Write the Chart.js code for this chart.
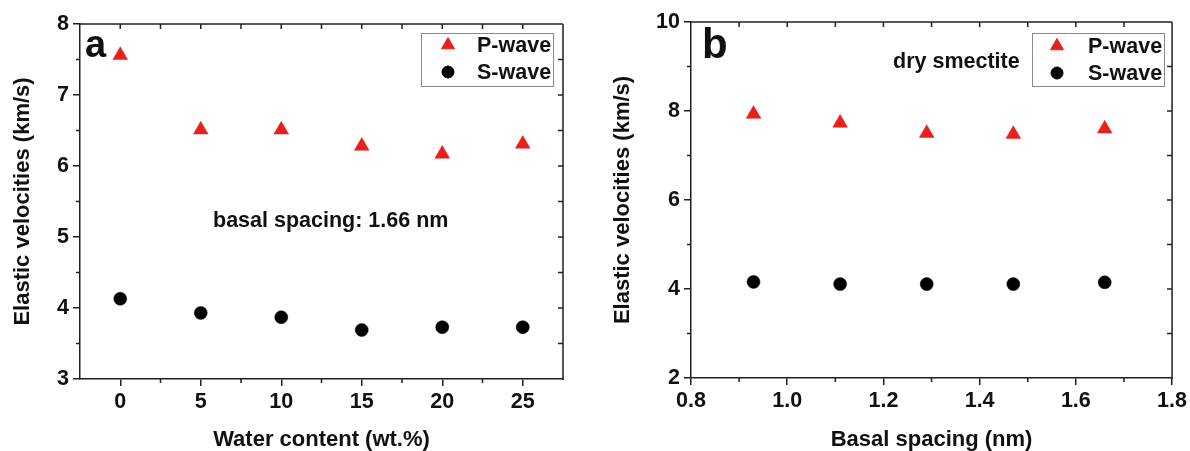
<!DOCTYPE html>
<html><head><meta charset="utf-8">
<script src="https://cdn.jsdelivr.net/npm/chart.js@4.4.1/dist/chart.umd.min.js"></script>
<style>
html,body{margin:0;padding:0;background:#fff;}
body{width:1190px;height:451px;overflow:hidden;position:relative;}
.p{position:absolute;top:0;width:595px;height:451px;}
</style></head><body>
<div class="p" style="left:0"><canvas id="chartA" width="595" height="451"></canvas></div>
<div class="p" style="left:595px"><canvas id="chartB" width="595" height="451"></canvas></div>
<script>
// ---- data ----
const waterContent = [0, 5, 10, 15, 20, 25];
const pWaveA = [7.56, 6.51, 6.51, 6.28, 6.17, 6.31];
const sWaveA = [4.13, 3.93, 3.87, 3.69, 3.73, 3.73];
const basalSpacing = [0.93, 1.11, 1.29, 1.47, 1.66];
const pWaveB = [7.93, 7.73, 7.50, 7.48, 7.60];
const sWaveB = [4.16, 4.11, 4.11, 4.11, 4.15];
const xTicksA = [0, 5, 10, 15, 20, 25];
const yTicksA = [3, 4, 5, 6, 7, 8];
const xMinorA = [2.5, 7.5, 12.5, 17.5, 22.5];
const yMinorA = [3.5, 4.5, 5.5, 6.5, 7.5];
const xTicksB = [0.8, 1.0, 1.2, 1.4, 1.6, 1.8];
const yTicksB = [2, 4, 6, 8, 10];
const xMinorB = [0.9, 1.1, 1.3, 1.5, 1.7];
const yMinorB = [3, 5, 7, 9];

const FONT = "'Liberation Sans', Arial, sans-serif";
const RED = '#e8201c';
const AXIS = '#231f1c';
const TXT = 21.5;

const decor = {
  id: 'decor',
  afterDraw(chart, args, o) {
    const ctx = chart.ctx, a = chart.chartArea;
    const xs = chart.scales.x, ys = chart.scales.y;
    ctx.save();
    ctx.strokeStyle = AXIS;
    ctx.lineWidth = 1.5;
    ctx.beginPath();
    ctx.moveTo(a.left, a.top); ctx.lineTo(a.right, a.top);
    ctx.moveTo(a.right, a.top); ctx.lineTo(a.right, a.bottom + 1);
    o.xMinor.forEach(v => { const px = xs.getPixelForValue(v); ctx.moveTo(px, a.bottom); ctx.lineTo(px, a.bottom + 4); });
    o.yMinor.forEach(v => { const py = ys.getPixelForValue(v); ctx.moveTo(a.left, py); ctx.lineTo(a.left - 4, py); });
    o.xMajor.concat(o.xMinor).forEach(v => { const px = xs.getPixelForValue(v); if (px > a.left + 1 && px < a.right - 1) { ctx.moveTo(px, a.top); ctx.lineTo(px, a.top + 5); } });
    o.yMajor.concat(o.yMinor).forEach(v => { const py = ys.getPixelForValue(v); if (py > a.top + 1 && py < a.bottom - 1) { ctx.moveTo(a.right, py); ctx.lineTo(a.right - 5, py); } });
    ctx.stroke();
    ctx.fillStyle = '#111';
    ctx.textBaseline = 'alphabetic';
    ctx.textAlign = 'left';
    ctx.font = 'bold ' + o.labelSize + 'px ' + FONT;
    ctx.fillText(o.label, o.labelX, o.labelY);
    ctx.font = 'bold ' + TXT + 'px ' + FONT;
    ctx.textBaseline = 'middle';
    ctx.fillText(o.note, o.noteX, o.noteY);
    const L = o.legend;
    ctx.strokeStyle = '#8a8a8a';
    ctx.lineWidth = 1;
    ctx.strokeRect(L.x + 0.5, L.y + 0.5, L.w, L.h);
    chart.data.datasets.forEach((ds, i) => {
      const cy = L.y + L.row0 + i * L.rowH;
      ctx.fillStyle = ds.backgroundColor;
      ctx.strokeStyle = ds.borderColor;
      Chart.helpers.drawPoint(ctx, {pointStyle: ds.pointStyle, radius: ds.pointStyle === 'triangle' ? 7.5 : 6, borderWidth: 0.5, rotation: 0}, L.x + L.mx, cy);
      ctx.fillStyle = '#111';
      ctx.font = 'bold ' + TXT + 'px ' + FONT;
      ctx.textBaseline = 'middle';
      ctx.fillText(ds.label, L.x + L.tx, cy + 1);
    });
    ctx.restore();
  }
};

function makeChart(id, cfg) {
  const tickFont = {family: FONT, size: TXT, weight: 'bold'};
  const titleFont = {family: FONT, size: 22, weight: 'bold', lineHeight: 1.0};
  return new Chart(document.getElementById(id), {
    type: 'scatter',
    data: {
      datasets: [
        {label: 'P-wave', data: cfg.x.map((v, i) => ({x: v, y: cfg.p[i]})), pointStyle: 'triangle', pointRadius: 8.5, pointHoverRadius: 8.5, backgroundColor: RED, borderColor: RED, pointBorderWidth: 0.5},
        {label: 'S-wave', data: cfg.x.map((v, i) => ({x: v, y: cfg.s[i]})), pointStyle: 'circle', pointRadius: 6.5, pointHoverRadius: 6.5, backgroundColor: '#000', borderColor: '#000', pointBorderWidth: 0.5}
      ]
    },
    options: {
      responsive: false, animation: false, devicePixelRatio: 1,
      layout: {padding: {left: 0, right: cfg.padRight, top: cfg.padTop, bottom: 0}},
      plugins: {
        legend: {display: false}, tooltip: {enabled: false},
        decor: cfg.decor
      },
      scales: {
        x: {
          type: 'linear', min: cfg.xMin, max: cfg.xMax,
          afterBuildTicks: s => { s.ticks = cfg.xTicks.map(v => ({value: v})); },
          afterFit: s => { s.height = cfg.xHeight; },
          grid: {display: true, drawOnChartArea: false, drawTicks: true, tickLength: 7, tickColor: AXIS, lineWidth: 1.5},
          border: {display: true, color: AXIS, width: 1.5},
          ticks: {font: tickFont, color: '#111', padding: 3, maxRotation: 0, callback: cfg.xFmt},
          title: {display: true, text: cfg.xTitle, font: titleFont, color: '#111', padding: {top: 0, bottom: 0}}
        },
        y: {
          type: 'linear', min: cfg.yMin, max: cfg.yMax,
          afterBuildTicks: s => { s.ticks = cfg.yTicks.map(v => ({value: v})); },
          afterFit: s => { s.width = cfg.yWidth; },
          grid: {display: true, drawOnChartArea: false, drawTicks: true, tickLength: 7, tickColor: AXIS, lineWidth: 1.5},
          border: {display: true, color: AXIS, width: 1.5},
          ticks: {font: tickFont, color: '#111', padding: 4, callback: v => String(v)},
          title: {display: true, text: 'Elastic velocities (km/s)', font: titleFont, color: '#111', padding: {top: cfg.yTitlePad, bottom: 0}}
        }
      }
    },
    plugins: [decor]
  });
}

makeChart('chartA', {
  x: waterContent, p: pWaveA, s: sWaveA,
  xMin: -2.5, xMax: 27.5, yMin: 3, yMax: 8,
  xTicks: xTicksA, yTicks: yTicksA,
  xFmt: v => String(v),
  xTitle: 'Water content (wt.%)',
  padRight: 32, padTop: 24, xHeight: 72, yWidth: 80, yTitlePad: 12,
  decor: {
    xMajor: xTicksA, yMajor: yTicksA, xMinor: xMinorA, yMinor: yMinorA,
    label: 'a', labelSize: 38, labelX: 85, labelY: 57,
    note: 'basal spacing: 1.66 nm', noteX: 213, noteY: 221,
    legend: {x: 421, y: 33, w: 132, h: 53, row0: 12, rowH: 27, mx: 27, tx: 56}
  }
});

makeChart('chartB', {
  x: basalSpacing, p: pWaveB, s: sWaveB,
  xMin: 0.8, xMax: 1.8, yMin: 2, yMax: 10,
  xTicks: xTicksB, yTicks: yTicksB,
  xFmt: v => Number(v).toFixed(1),
  xTitle: 'Basal spacing (nm)',
  padRight: 16, padTop: 22, xHeight: 73, yWidth: 96, yTitlePad: 17,
  decor: {
    xMajor: xTicksB, yMajor: yTicksB, xMinor: xMinorB, yMinor: yMinorB,
    label: 'b', labelSize: 42, labelX: 107, labelY: 58,
    note: 'dry smectite', noteX: 298, noteY: 62,
    legend: {x: 437, y: 33, w: 132, h: 53, row0: 13, rowH: 27, mx: 25, tx: 56}
  }
});
</script>
</body></html>
